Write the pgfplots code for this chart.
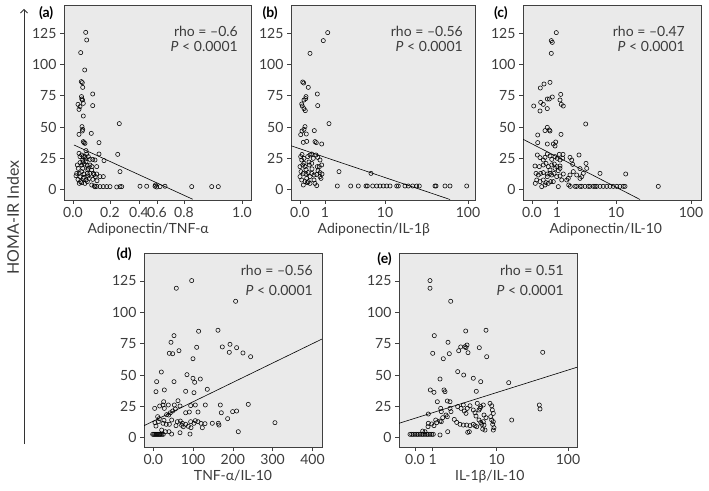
\documentclass[border=0pt]{standalone}
\usepackage{fontspec}
\setmainfont{Lato}
\usepackage{pgfplots}
\pgfplotsset{compat=1.18}
\usetikzlibrary{arrows.meta}
\definecolor{bg}{RGB}{234,234,234}
\definecolor{txt}{RGB}{60,60,60}
\pgfplotsset{
  panel/.style={
    scale only axis, anchor=south west,
    axis background/.style={fill=bg},
    axis line style={draw=black!75, line width=0.6pt},
    tick style={draw=black!75, line width=0.6pt},
    tick align=outside, major tick length=4pt,
    xtick pos=bottom, ytick pos=left,
    ytick={0,25,50,75,100,125},
    tick label style={font=\fontsize{14}{16}\selectfont, text=txt},
    /pgf/number format/assume math mode=true,
    label style={font=\fontsize{14}{16}\selectfont, text=txt},
  },
  xl/.style={xlabel style={at={(axis description cs:#1,0)}, anchor=north, yshift=-20pt}},
  row1/.style={ymin=-8.4, ymax=147.6, height=195pt},
  row2/.style={ymin=-7.4, ymax=147.3, height=194pt},
  pts/.style={only marks, mark=o, mark size=2.1pt, mark options={line width=0.55pt, draw=black}},
  fit/.style={no marks, black, line width=0.6pt},
}
\newcommand{\stat}[2]{rho = #1\\\textit{P} < #2}
\begin{document}
\begin{tikzpicture}[x=1pt,y=1pt]
\useasboundingbox (0,0) rectangle (709,490);
% y label and arrow
\node[rotate=90, font=\fontsize{16}{18}\selectfont, text=txt] at (13,272.5) {HOMA-IR Index};
\draw[-{Straight Barb[length=3.5pt,width=7pt]}, black!80, line width=0.8pt] (24,46) -- (24,481);
% panel labels
\node[anchor=east, font=\bfseries\fontsize{14}{16}\selectfont, inner sep=0pt] at (53.5,477) {(a)};
\node[anchor=east, font=\bfseries\fontsize{14}{16}\selectfont, inner sep=0pt] at (278,477) {(b)};
\node[anchor=east, font=\bfseries\fontsize{14}{16}\selectfont, inner sep=0pt] at (508,477) {(c)};
\node[anchor=east, font=\bfseries\fontsize{14}{16}\selectfont, inner sep=0pt] at (132,236) {(d)};
\node[anchor=east, font=\bfseries\fontsize{14}{16}\selectfont, inner sep=0pt] at (392,231) {(e)};

% ---------------- (a)
\begin{axis}[panel, row1, at={(64pt,290pt)}, width=187pt,
  xmin=64, xmax=251, xtick={73,110,139,157,184,242},
  xticklabels={0.0,0.2,0.4,0.6,0.8,1.0},
  xlabel={Adiponectin/TNF-α}, xl=0.45]
\addplot[pts] coordinates {
(85.7,125.7) (86.7,119.6) (80.7,109.5) (84.7,95.6) (81.3,86.3) (82.3,85.5) (82.7,81.7) (92.7,76.4)
(81.5,74.3) (81.8,72.4) (82.5,71.6) (83.3,68.9) (78,68.1) (80,66.3) (79,64.1) (92.7,67.1) (83.3,58.8)
(82,50.3) (82.7,48.1) (82.3,46.8) (119.3,52.7) (91.3,44.9) (79,44.1) (83.3,38.3) (84,37.5) (85,36.9)
(99,37.5) (86,31.1) (86.7,28.4) (99,28.4) (117.7,28.1) (104,23.1) (120,14.3)
(95,2.2) (96.7,2.5) (100,2.3) (103.3,2.3) (106.7,2.3) (110,2.3) (116.7,2.0) (120,2.3) (121.7,2.3)
(140,2.6) (146.7,2.6) (155,2.6) (155.5,3.6) (156.7,2.0) (160,2.3) (165,2.6) (191.7,2.3) (211.7,2.3) (218.3,2.3)
(79,28.9) (81.7,27.6) (80,26.3) (83.3,26.3) (85,26.3) (88.3,26.3) (82.7,23.6) (86,22.3) (90,24.1)
(92.7,24.1) (95,23.6) (80,21.5) (77.3,19.6) (81.7,19.6) (84.3,20.4) (87.3,19.1) (90,19.6) (92,18.3)
(96.7,18.3) (76.7,12.9) (79.3,12.9) (81.7,14.3) (84,12.4) (87.3,12.9) (90,12.9) (93.3,12.9) (96.7,12.4)
(100,10.3) (80,10.3) (83.3,8.9) (86,7.6) (89.3,8.9) (92.7,8.1) (95.3,10.3) (81.7,5.5) (85,4.9)
(87.3,6.3) (91.7,3.6) (94.3,2.8) (79.3,4.9) (103.3,10.3) (78.3,16.9) (82.7,16.9) (87.7,15.6)
(91.7,15.6) (76,11) (78,8) (80.5,6.3) (83,22) (85.5,24.5) (88,17) (84,9.8) (88,10.8) (94,12) (97,7)
};
\addplot[fit] coordinates {(74,35.6) (192.7,-7.8)};
\node[anchor=north east, align=right, inner sep=0pt, font=\fontsize{14}{14.5}\selectfont, text=txt]
  at (rel axis cs:1,1) [xshift=-13pt, yshift=-21pt] {\stat{\textendash0.6}{0.0001}};
\end{axis}

% ---------------- (b)
\begin{axis}[panel, row1, at={(291pt,290pt)}, width=184pt,
  xmin=291, xmax=475, xtick={300,325,385,468},
  xticklabels={0.0,1,10,100},
  xlabel={Adiponectin/IL-1β}, xl=0.45]
\addplot[pts] coordinates {
(327.7,125.5) (323.3,119.1) (310,108.9) (302.7,86) (303.7,85.2) (308.3,81.7) (317.3,76.4) (306,74.3)
(305.7,72.7) (304,71.6) (301.7,68.4) (302.3,66.8) (317.7,67.1) (304,64.7) (305.3,63.1) (305,50.3)
(304,48.1) (302,46.8) (314.3,47.1) (300.7,43.9) (306.3,44.4) (329,52.7) (315,38.3) (316.3,37.5)
(303.3,37.7) (306.7,38.5) (321.7,36.4) (339,14.3) (371,12.9)
(337.3,2.8) (350.7,2.8) (358.3,2.8) (366,2.8) (367.3,2.8) (372.7,2.8) (376.7,2.8) (380,2.8) (383.3,2.8)
(386.7,2.8) (390,2.8) (396.7,2.8) (398.3,2.8) (405,2.8) (408.3,2.8) (412.7,2.8) (416.7,2.8) (419.3,2.8)
(435,2.8) (436,2.8) (445,2.8) (450,2.8) (466.7,2.8)
(300.7,26.3) (301.7,23.6) (304,24.9) (307.7,26.3) (310,27.6) (311.7,28.4) (313.3,24.9) (316,27.6)
(317.7,25.7) (320,23.6) (321.7,19.6) (300,18.3) (302.7,19.6) (305,18.3) (309.3,19.6) (311.7,20.9)
(317.3,18.3) (319.3,18.3) (301,14.3) (303.3,12.9) (306,12.4) (308.3,13.5) (311.7,12.9) (314,11.6)
(316.7,12.1) (320,13.5) (322,12.4) (301.7,7.6) (305,6.3) (308.3,6.3) (310,4.9) (315,4.9) (300,10.3)
(316.7,3.1) (314,7.6) (306.7,8.9) (310,10.3) (320,10.3) (321,8.9) (303.3,3.6) (307.3,5.5)
(304,21) (306,16) (312,16.5) (318,15) (302,28) (309,22)
};
\addplot[fit] coordinates {(291,35) (450,-8)};
\node[anchor=north east, align=right, inner sep=0pt, font=\fontsize{14}{14.5}\selectfont, text=txt]
  at (rel axis cs:1,1) [xshift=-12pt, yshift=-21pt] {\stat{\textendash0.56}{0.0001}};
\end{axis}

% ---------------- (c)
\begin{axis}[panel, row1, at={(523pt,290pt)}, width=178pt,
  xmin=523, xmax=701, xtick={532,557,616,691},
  xticklabels={0.0,1,10,100},
  xlabel={Adiponectin/IL-10}, xl=0.465]
\addplot[pts] coordinates {
(556.3,125.5) (551.3,119.1) (552.3,117.7) (551.3,108.9) (550,85.7) (544,84.4) (540.3,81.2) (560.7,76.1)
(547.3,72.4) (549.3,72.4) (552.3,74) (560,71.6) (561.3,68.1) (563.3,66.8) (540.7,69.7) (543.3,68.1)
(533.7,66.8) (547.3,64.7) (540,62.8) (585.7,52.4) (547.3,49.7) (549.3,47.6) (550,46.8) (545,47.1)
(537.7,43.6) (561,44.1) (537.7,37.5) (547.3,36.4) (553.3,36.4) (555.7,38) (555,34.8) (559.3,28.1)
(563,28.1) (562.7,25) (579,27.6) (570,25.7) (571.7,23.6) (572.7,20.1) (625.7,12.4) (600,12.9)
(586,20.9) (586.7,16.9) (580,16.7) (581.7,10.3)
(568.7,3.6) (570.3,2.5) (575,2.5) (576.7,2.5) (580,2.5) (581.7,2.5) (585,2.5) (588.3,2.5) (590,2.5)
(593.3,2.5) (595,2.5) (596.7,2.5) (600,2.5) (603.3,2.5) (606.7,2.5) (610,2.5) (613.3,2.5) (616.7,2.5)
(620,2.5) (623.3,2.5) (625,2.5) (658.3,2.5)
(537.3,27.6) (540,25.5) (543.3,23.6) (545,25.7) (547.3,28.4) (550,26.8) (551.7,24.1) (555,26.3)
(557.3,24.9) (560,23.6) (543.3,19.6) (546,20.9) (548.3,18.3) (551.7,19.6) (554.3,20.4) (556.7,18.3)
(560,18.8) (535,18.8) (539.3,18.3) (536,12.9) (538.3,11.6) (540.7,12.9) (543.3,13.5) (547.3,12.4)
(550,12.9) (551.7,11.6) (554,12.9) (556.7,10.3) (560,10.8) (563.3,12.4) (536.7,7.6) (540,6.3)
(543.3,7.6) (546,5.5) (548.3,4.9) (550.7,6.3) (541.7,2.3) (545,3.6) (553.3,6.3) (558.3,2.3)
(561.7,7.6) (566.7,7.6) (568.3,8.9) (535.3,4.9) (547.3,10.3) (550,15.6) (555,16.9) (558.3,15.1)
(560,16.9) (570,11.6) (576.7,11.6) (573.3,14.3) (580,8.9) (583.3,12.9)
};
\addplot[fit] coordinates {(523,40.2) (640,-8)};
\node[anchor=north east, align=right, inner sep=0pt, font=\fontsize{14}{14.5}\selectfont, text=txt]
  at (rel axis cs:1,1) [xshift=-16pt, yshift=-21pt] {\stat{\textendash0.47}{0.0001}};
\end{axis}

% ---------------- (d)
\begin{axis}[panel, row2, at={(144pt,43pt)}, width=178pt,
  xmin=-23.4, xmax=424, xtick={0,100,200,300,400},
  xticklabels={0.0,100,200,300,400},
  xlabel={TNF-α/IL-10}, xl=0.5]
\addplot[pts] coordinates {
(96.4,125.3) (57.8,119.2) (206.9,108.8) (162.5,85.7) (52,81.4) (113.9,84.9) (44.4,76.1) (173.4,72.4)
(192.7,74.5) (209.4,71.8) (191,68.1) (225.3,67.6) (244.6,64.6) (40.3,67.3) (48.6,67.0) (64.5,69.4)
(109,72.1) (99.7,63.0) (20.2,52.4) (52,44.7) (84.6,50.3) (99.7,47.4) (103.9,44.2) (118.1,46.8)
(8.4,44.7) (27.7,38.1) (6.7,36.7) (135.7,38.6) (102.2,35.9) (81.3,37.0) (62,29.5) (26,28.7)
(24.3,26.1) (16,25.3) (3.4,23.4) (67.1,25.3) (93.9,25.6) (130.7,26.1) (168.4,26.1) (238.7,26.6)
(170.9,19.9) (209.4,21.3) (199.4,20.8) (186.8,15.2) (305.7,12.0) (213.6,4.8) (163.4,11.5) (165,10.1)
(148.3,11.5) (123.2,8.0) (129.9,11.2) (93.9,12.8) (102.2,11.5) (112.3,20.5) (81.3,19.9) (90.5,20.5)
(42.8,19.9) (48.6,21.3) (55.3,22.9) (52.8,26.1) (67.9,13.3) (71.2,9.9) (60.4,12.8) (57,9.6)
(40.3,10.7) (32.7,10.7) (24.3,11.5) (26.8,13.9) (10.9,16.8) (15.1,15.2) (12.6,12.8) (4.2,12.0)
(6.7,9.3) (33.5,18.4) (38.6,18.1) (27.7,23.4) (46.1,14.1) (105.6,13.6) (112.3,12.8) (119.8,11.5)
(81.3,10.7) (88,9.1) (94.7,8.0) (72.9,11.5) (75.4,8.8) (21,6.1) (30.2,4.8) (39.4,4.8) (46.1,2.9)
(92.2,2.9) (67.1,4.0) (105.6,26.1) (37.7,26.1)
(-1.6,2.7) (1,2.7) (3.5,2.7) (6,2.7) (8.5,2.7) (11,2.7) (13.5,2.7) (16,2.7) (18.5,2.7) (21.5,2.7) (25,2.7)
};
\addplot[fit] coordinates {(-23.4,9.6) (424,78.7)};
\node[anchor=north east, align=right, inner sep=0pt, font=\fontsize{14}{20}\selectfont, text=txt]
  at (rel axis cs:1,1) [xshift=-9pt, yshift=-12pt] {\stat{\textendash0.56}{0.0001}};
\end{axis}

% ---------------- (e)
\begin{axis}[panel, row2, at={(399pt,43pt)}, width=178pt,
  xmin=399, xmax=577, xtick={415,432.7,496.7,568},
  xticklabels={0.0,1,10,100},
  xlabel={IL-1β/IL-10}, xl=0.51]
\addplot[pts] coordinates {
(430,125.3) (430,119.2) (450.7,108.8) (465.7,85.1) (486,85.7) (434.3,81.4) (448,76.1) (460.7,72.4)
(465,72.6) (467,73.9) (466,71.8) (458.7,69.4) (449.3,67) (432.7,67.3) (468,67.8) (479.3,71.8)
(486.7,64.6) (443.3,63) (542.7,68.1) (457.7,52.7) (463.7,50) (473.3,47.4) (440,46.8) (480.7,44.7)
(508.7,43.9) (476.3,37) (444,38.1) (445,36.7) (430.3,38.1) (434,36.2) (437.3,28.7) (447.3,29.3)
(450,28.7) (428.3,18.9) (440.7,23.4) (441.3,20.8) (446,18.1) (447.3,16.8) (450,23.4) (451,20.8)
(457.7,24.8) (461,23.4) (463.3,26.1) (464.3,21.3) (466,19.4) (467.3,23.4) (470,25.5) (473.3,22.1)
(475,19.9) (476,17.3) (479,22.1) (480,23.4) (480.7,24.8) (483.3,26.1) (477.3,27.4) (484,18.1)
(486,16) (483.3,12.8) (484,10.1) (485,6.1) (482.7,6.9) (479,14.1) (480.7,12.2) (481.7,10.7)
(454.3,14.6) (456.7,12.2) (460,10.7) (463.3,10.1) (466.7,10.1) (470,9.6) (473.3,10.7) (476.7,8.8)
(475,9.6) (467.7,4.3) (469.3,4.8) (447.7,4.8) (440,2.2) (440,13.3) (441.3,12.8) (442.7,16)
(435.7,14.1) (436.7,12) (431.7,11) (434,9.6) (428.3,11.5) (428,8.8) (511.7,14.1) (539.3,26.1)
(540,22.9) (490,27.4) (491.7,25.5) (492.3,22.1) (493.3,19.4) (490.7,16.8) (491.7,14.1) (493.3,12.8)
(492.7,10.7) (494,8) (493.3,6.1) (422.7,5.3) (425,4.8)
(410,2.7) (411.7,2.7) (413.3,2.7) (415,2.7) (416.7,2.7) (418.3,2.7) (420,2.7) (421.7,2.7) (423.3,2.7)
(425,2.7) (426.7,2.7) (428.3,2.7) (430,2.7) (431.7,2.7) (433.3,2.7)
};
\addplot[fit] coordinates {(399,11.5) (577,56.2)};
\node[anchor=north east, align=right, inner sep=0pt, font=\fontsize{14}{20}\selectfont, text=txt]
  at (rel axis cs:1,1) [xshift=-13pt, yshift=-12pt] {\stat{0.51}{0.0001}};
\end{axis}
\end{tikzpicture}
\end{document}
